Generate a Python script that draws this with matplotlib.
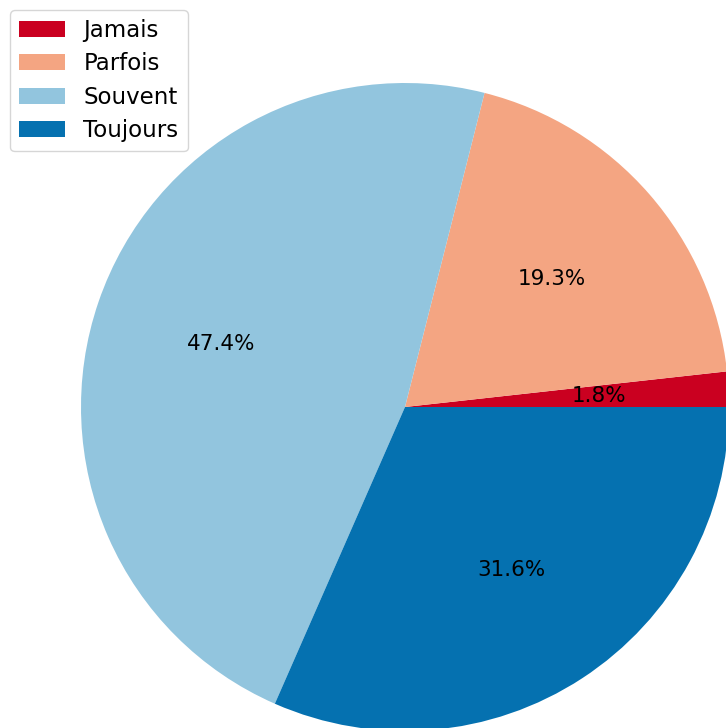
import matplotlib.pyplot as plt

# answers counted per category
labels = ['Jamais', 'Parfois', 'Souvent', 'Toujours']
counts = [1, 11, 27, 18]
colors = ['#ca0020', '#f4a582', '#92c5de', '#0571b0']

W, H = 726, 728
fig = plt.figure(figsize=(W / 100, H / 100), dpi=100)

# pie centre (405, 407) px from top-left, radius ~323 px; it runs off the right and bottom
cx, cy, r = 405, 407, 324
ax = fig.add_axes([(cx - r) / W, (H - cy - r) / H, 2 * r / W, 2 * r / H])

wedges, texts, autotexts = ax.pie(counts, colors=colors, autopct='%1.1f%%',
                                  startangle=0, counterclock=True,
                                  textprops={'fontsize': 15.5})
ax.set_xlim(-1, 1)
ax.set_ylim(-1, 1)
ax.set_aspect('equal')
ax.axis('off')

fig.legend(wedges, labels, loc='upper left', fontsize=16.5, labelspacing=0.45,
           bbox_to_anchor=(10 / W, 1 - 10 / H), borderaxespad=0)

fig.savefig('out.png', dpi=100)
